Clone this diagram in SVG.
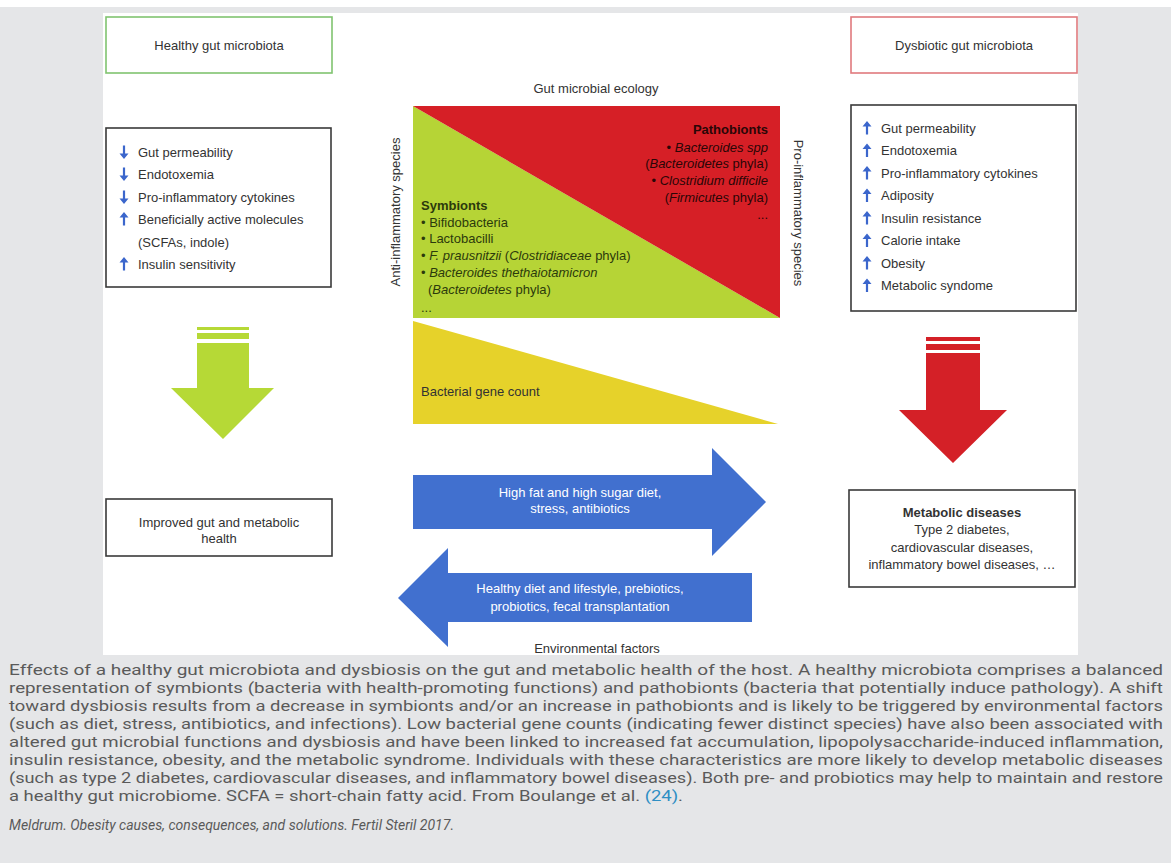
<svg xmlns="http://www.w3.org/2000/svg" width="1171" height="863" viewBox="0 0 1171 863">
<style>
.t{font-family:"Liberation Sans",Arial,sans-serif;font-size:13px;fill:#333}
.c{text-anchor:middle}
.b{font-weight:bold}
.i{font-style:italic}
.w{fill:#fff}
.sym{fill:#2c3a0c}
.pat{fill:#2a0606;text-anchor:end}
.box{fill:#fff;stroke:#3a3a3a;stroke-width:1.6}
.cap{font-family:Roboto,"Liberation Sans",sans-serif;font-size:15.3px;fill:#5a5a5a}
.ic{fill:#3b66cc}
</style>
<defs>
<polygon id="up" points="0,-7 4.5,-1.5 1.1,-1.5 1.1,6.5 -1.1,6.5 -1.1,-1.5 -4.5,-1.5"/>
<g id="dn"><use href="#up" transform="scale(1,-1)"/></g>
</defs>
<rect x="0" y="0" width="1171" height="863" fill="#e5e6e8"/>
<rect x="0" y="0" width="1171" height="7" fill="#fff"/>
<rect x="103" y="13" width="975" height="642" fill="#fff"/>

<g id="healthy-title">
<rect x="106" y="17" width="226" height="56" fill="#fff" stroke="#80c470" stroke-width="1.6"/>
<text class="t c" x="219" y="49.5">Healthy gut microbiota</text>
</g>
<g id="dysbiotic-title">
<rect x="851" y="17" width="226" height="56" fill="#fff" stroke="#e07a7e" stroke-width="1.6"/>
<text class="t c" x="964" y="49.5">Dysbiotic gut microbiota</text>
</g>

<g id="healthy-effects">
<rect class="box" x="106" y="128" width="225" height="159"/>
<use href="#dn" class="ic" x="124" y="152"/>
<use href="#dn" class="ic" x="124" y="174"/>
<use href="#dn" class="ic" x="124" y="197"/>
<use href="#up" class="ic" x="124" y="219"/>
<use href="#up" class="ic" x="124" y="264"/>
<text class="t" x="138" y="156.5">Gut permeability</text>
<text class="t" x="138" y="178.5">Endotoxemia</text>
<text class="t" x="138" y="201.5">Pro-inflammatory cytokines</text>
<text class="t" x="138" y="223.5">Beneficially active molecules</text>
<text class="t" x="138" y="246.5">(SCFAs, indole)</text>
<text class="t" x="138" y="268.5">Insulin sensitivity</text>
</g>

<g id="dysbiotic-effects">
<rect class="box" x="851" y="105" width="225" height="206"/>
<use href="#up" class="ic" x="867" y="128"/>
<use href="#up" class="ic" x="867" y="150.5"/>
<use href="#up" class="ic" x="867" y="173"/>
<use href="#up" class="ic" x="867" y="195.5"/>
<use href="#up" class="ic" x="867" y="218"/>
<use href="#up" class="ic" x="867" y="240.5"/>
<use href="#up" class="ic" x="867" y="263"/>
<use href="#up" class="ic" x="867" y="285.5"/>
<text class="t" x="881" y="132.5">Gut permeability</text>
<text class="t" x="881" y="155">Endotoxemia</text>
<text class="t" x="881" y="177.5">Pro-inflammatory cytokines</text>
<text class="t" x="881" y="200">Adiposity</text>
<text class="t" x="881" y="222.5">Insulin resistance</text>
<text class="t" x="881" y="245">Calorie intake</text>
<text class="t" x="881" y="267.5">Obesity</text>
<text class="t" x="881" y="290">Metabolic syndome</text>
</g>

<g id="ecology">
<text class="t c" x="596" y="92.5">Gut microbial ecology</text>
<polygon points="413,106 780,318 413,318" fill="#b6d436"/>
<polygon points="413,106 780,106 780,318" fill="#d61f26"/>
<text class="t b pat" x="768" y="133.5">Pathobionts</text>
<text class="t pat" x="768" y="151.5">• <tspan class="i">Bacteroides spp</tspan></text>
<text class="t pat" x="768" y="168">(<tspan class="i">Bacteroidetes</tspan> phyla)</text>
<text class="t pat" x="768" y="185">• <tspan class="i">Clostridium difficile</tspan></text>
<text class="t pat" x="768" y="202">(<tspan class="i">Firmicutes</tspan> phyla)</text>
<text class="t pat" x="768" y="219" font-size="10">...</text>
<text class="t b sym" x="421" y="209.5">Symbionts</text>
<text class="t sym" x="421" y="226.5">• Bifidobacteria</text>
<text class="t sym" x="421" y="243">• Lactobacilli</text>
<text class="t sym" x="421" y="259.5">• <tspan class="i">F. prausnitzii</tspan> (<tspan class="i">Clostridiaceae</tspan> phyla)</text>
<text class="t sym" x="421" y="276.5">• <tspan class="i">Bacteroides thethaiotamicron</tspan></text>
<text class="t sym" x="428" y="294">(<tspan class="i">Bacteroidetes</tspan> phyla)</text>
<text class="t sym" x="421" y="312" font-size="10">...</text>
<text class="t c" transform="translate(399.5,212) rotate(-90)">Anti-inflammatory species</text>
<text class="t c" transform="translate(793.5,213) rotate(90)">Pro-inflammatory species</text>
</g>

<g id="gene-count">
<polygon points="413,321 778,424 413,424" fill="#e6d22a"/>
<text class="t" x="421" y="395.5" fill="#2e2a06">Bacterial gene count</text>
</g>

<g id="healthy-arrow">
<rect x="197" y="327" width="52" height="3" fill="#b6d936"/>
<rect x="197" y="333" width="52" height="6" fill="#b6d936"/>
<polygon points="197,343 249,343 249,388 274,388 223,439 171,388 197,388" fill="#b6d936"/>
</g>
<g id="dysbiotic-arrow">
<rect x="926" y="337" width="54" height="4" fill="#d42027"/>
<rect x="926" y="344" width="54" height="6" fill="#d42027"/>
<polygon points="926,353 980,353 980,410 1007,410 953,463 899,410 926,410" fill="#d42027"/>
</g>

<g id="improved-health">
<rect class="box" x="106" y="499" width="226" height="57"/>
<text class="t c" x="219" y="526.5">Improved gut and metabolic</text>
<text class="t c" x="219" y="542.5">health</text>
</g>

<g id="metabolic-diseases">
<rect class="box" x="849" y="490" width="226" height="97"/>
<text class="t c b" x="962" y="516.5">Metabolic diseases</text>
<text class="t c" x="962" y="534">Type 2 diabetes,</text>
<text class="t c" x="962" y="551.5">cardiovascular diseases,</text>
<text class="t c" x="962" y="569">inflammatory bowel diseases, …</text>
</g>

<g id="connectors">
<g id="to-dysbiosis">
<polygon points="413,475 712,475 712,448 766,502 712,556 712,529 413,529" fill="#4170cf"/>
<text class="t c w" x="580" y="496.5">High fat and high sugar diet,</text>
<text class="t c w" x="580" y="513">stress, antibiotics</text>
</g>
<g id="to-health">
<polygon points="752,573 448,573 448,548 398,598 448,647 448,622 752,622" fill="#4170cf"/>
<text class="t c w" x="580" y="592.5">Healthy diet and lifestyle, prebiotics,</text>
<text class="t c w" x="580" y="610.5">probiotics, fecal transplantation</text>
</g>
<text class="t c" x="597" y="652.5">Environmental factors</text>
</g>

<g id="caption">
<text class="cap" x="9" y="675" textLength="1154" lengthAdjust="spacingAndGlyphs">Effects of a healthy gut microbiota and dysbiosis on the gut and metabolic health of the host. A healthy microbiota comprises a balanced</text>
<text class="cap" x="9" y="693" textLength="1154" lengthAdjust="spacingAndGlyphs">representation of symbionts (bacteria with health-promoting functions) and pathobionts (bacteria that potentially induce pathology). A shift</text>
<text class="cap" x="9" y="711" textLength="1154" lengthAdjust="spacingAndGlyphs">toward dysbiosis results from a decrease in symbionts and/or an increase in pathobionts and is likely to be triggered by environmental factors</text>
<text class="cap" x="9" y="729" textLength="1154" lengthAdjust="spacingAndGlyphs">(such as diet, stress, antibiotics, and infections). Low bacterial gene counts (indicating fewer distinct species) have also been associated with</text>
<text class="cap" x="9" y="747" textLength="1154" lengthAdjust="spacingAndGlyphs">altered gut microbial functions and dysbiosis and have been linked to increased fat accumulation, lipopolysaccharide-induced inflammation,</text>
<text class="cap" x="9" y="765" textLength="1154" lengthAdjust="spacingAndGlyphs">insulin resistance, obesity, and the metabolic syndrome. Individuals with these characteristics are more likely to develop metabolic diseases</text>
<text class="cap" x="9" y="783" textLength="1154" lengthAdjust="spacingAndGlyphs">(such as type 2 diabetes, cardiovascular diseases, and inflammatory bowel diseases). Both pre- and probiotics may help to maintain and restore</text>
<text class="cap" x="9" y="801" textLength="674" lengthAdjust="spacingAndGlyphs">a healthy gut microbiome. SCFA = short-chain fatty acid. From Boulange et al. <tspan fill="#2f8fc4">(24)</tspan>.</text>
<text class="cap i" x="9" y="830" font-size="12" textLength="445" lengthAdjust="spacingAndGlyphs" fill="#333">Meldrum. Obesity causes, consequences, and solutions. Fertil Steril 2017.</text>
</g>
</svg>
